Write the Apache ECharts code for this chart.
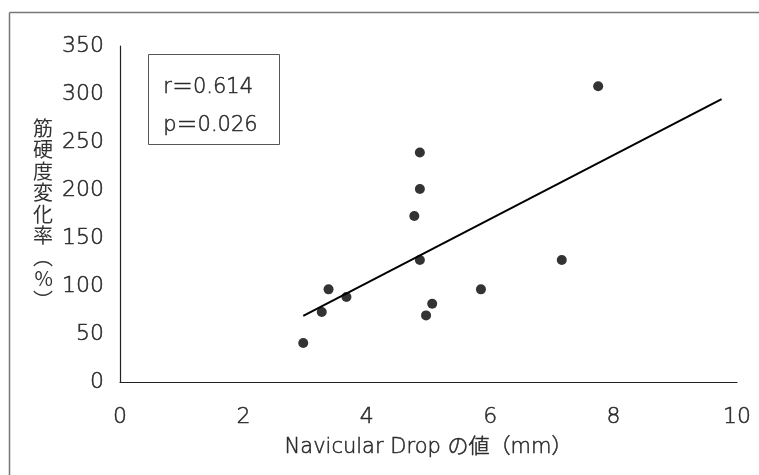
<!DOCTYPE html>
<html lang="ja">
<head>
  <meta charset="UTF-8" />
  <title>Navicular Drop と筋硬度変化率</title>
  <script src="https://cdn.jsdelivr.net/npm/echarts@6/dist/echarts.min.js"></script>
  <style>
    html, body { margin: 0; padding: 0; background: #fff; }
    #chart { width: 759px; height: 475px; }
  </style>
</head>
<body>
  <div id="chart"></div>
  <script>
    // 読み取った値
    const dropMm = [7.75, 4.86, 4.86, 4.77, 4.86, 7.16, 3.38, 5.85, 3.67, 5.06, 3.27, 4.96, 2.97];
    const stiffnessPct = [308, 239, 201, 173, 127, 127, 96.5, 96.5, 88.5, 81.6, 73, 69.4, 40.6];
    const trendEndX = 9.75;
    const statLines = ['r＝0.614', 'p＝0.026'];
    const xTicks = [0, 2, 4, 6, 8, 10];
    const yTicks = [0, 50, 100, 150, 200, 250, 300, 350];

    // 最小二乗法で回帰直線
    function fitLine(xs, ys) {
      const n = xs.length;
      const mx = xs.reduce((a, b) => a + b, 0) / n;
      const my = ys.reduce((a, b) => a + b, 0) / n;
      let sxy = 0, sxx = 0;
      xs.forEach((x, i) => { sxy += (x - mx) * (ys[i] - my); sxx += (x - mx) * (x - mx); });
      const slope = sxy / sxx;
      return { slope, intercept: my - slope * mx };
    }

    const fit = fitLine(dropMm, stiffnessPct);
    const x0 = Math.min(...dropMm);
    const trend = [x0, trendEndX].map(x => [x, fit.intercept + fit.slope * x]);

    const font = '"DejaVu Sans", "Noto Sans CJK JP", sans-serif';
    const textColor = '#2a2a2a';
    // 細字を少しだけ太らせる
    const thin = { fontWeight: 300, color: textColor, textBorderColor: textColor, textBorderWidth: 0.5 };
    const chart = echarts.init(document.getElementById('chart'));
    chart.setOption({
      animation: false,
      grid: { left: 120, right: 22, top: 46, bottom: 93 },
      xAxis: {
        type: 'value',
        min: xTicks[0], max: xTicks[xTicks.length - 1], interval: 2,
        name: 'Navicular Drop の値（mm）',
        nameLocation: 'middle', nameGap: 55,
        nameTextStyle: Object.assign({ fontFamily: font, fontSize: 21 }, thin),
        axisLine: { lineStyle: { color: '#222', width: 1.2 } },
        axisTick: { show: false },
        splitLine: { show: false },
        axisLabel: Object.assign({ margin: 24, fontFamily: font, fontSize: 22 }, thin)
      },
      yAxis: {
        type: 'value',
        min: yTicks[0], max: yTicks[yTicks.length - 1], interval: 50,
        name: '筋\n硬\n度\n変\n化\n率\n︵\n%\n︶',
        nameLocation: 'middle', nameGap: 67, nameRotate: 0,
        nameTextStyle: { fontFamily: '"Noto Sans CJK JP", sans-serif', fontSize: 20, lineHeight: 21.5, color: '#333' },
        axisLine: { show: true, lineStyle: { color: '#222', width: 1.2 } },
        axisTick: { show: false },
        splitLine: { show: false },
        axisLabel: Object.assign({ margin: 16, fontFamily: font, fontSize: 22 }, thin)
      },
      series: [
        {
          type: 'scatter',
          data: dropMm.map((x, i) => [x, stiffnessPct[i]]),
          symbolSize: 10,
          itemStyle: { color: '#000' },
          z: 3
        },
        {
          type: 'line',
          data: trend,
          showSymbol: false,
          lineStyle: { color: '#000', width: 2 },
          z: 2
        }
      ],
      graphic: [
        // 外枠（上と左のみ）
        { type: 'line', shape: { x1: 9.5, y1: 12.5, x2: 759, y2: 12.5 }, style: { stroke: '#777', lineWidth: 1.5 } },
        { type: 'line', shape: { x1: 9.5, y1: 12.5, x2: 9.5, y2: 475 }, style: { stroke: '#777', lineWidth: 1.5 } },
        // 統計値ボックス
        { type: 'rect', shape: { x: 148.5, y: 54.5, width: 131, height: 90 }, style: { fill: '#fff', stroke: '#555', lineWidth: 1 } },
        {
          type: 'text', left: 163, top: 69,
          style: { text: statLines.join('\n'), font: '300 21px ' + font, lineHeight: 38, fill: textColor, stroke: textColor, lineWidth: 0.5 }
        }
      ]
    });
  </script>
</body>
</html>
